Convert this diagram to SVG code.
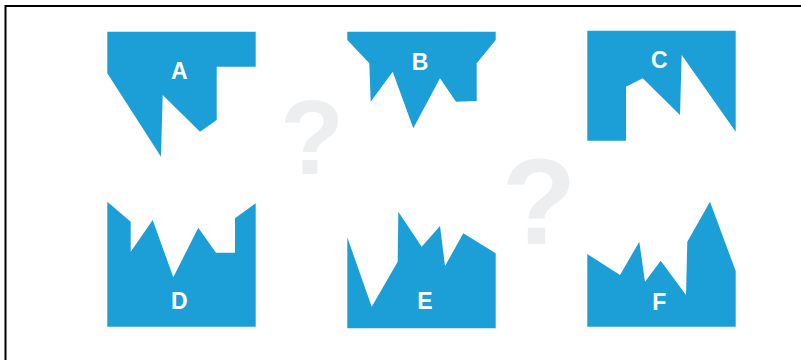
<svg xmlns="http://www.w3.org/2000/svg" width="801" height="360" viewBox="0 0 801 360">
<style>
.shape{fill:#1c9fd6}
.lbl{fill:#ffffff;font-family:"Liberation Sans",Arial,sans-serif;font-weight:bold;font-size:23px;text-anchor:middle}
.q{fill:#eceef0;font-family:"Liberation Sans",Arial,sans-serif;font-weight:bold;font-size:105px;text-anchor:middle}
</style>
<rect x="0" y="0" width="801" height="360" fill="#ffffff"/>
<path d="M5.5,362 V6 H803" fill="none" stroke="#000000" stroke-width="2"/>
<g id="q1"><text class="q" x="312" y="174">?</text></g>
<g id="q2"><text class="q" x="539" y="244" style="font-size:122px">?</text></g>
<g id="A">
<polygon class="shape" points="107.3,31.7 255.7,31.7 255.7,66.7 216.7,66.7 216.7,120 200,131.7 162.7,95 161,156.7 107.3,73.3"/>
<text class="lbl" x="179.3" y="78.5">A</text>
</g>
<g id="B">
<polygon class="shape" points="347.3,31.7 495.7,31.7 495.7,40 476.7,63.3 476.7,101 456,101.7 440,78.3 413.3,128.3 392.7,71.7 370.7,101.7 369.3,63.3 347.3,40"/>
<text class="lbl" x="420" y="70">B</text>
</g>
<g id="C">
<polygon class="shape" points="587.3,30.7 735.7,30.7 735.7,131.7 681.7,55 680,115 642.7,78.3 626,86.7 626,140.7 587.3,140.7"/>
<text class="lbl" x="659.3" y="67.5">C</text>
</g>
<g id="D">
<polygon class="shape" points="107.3,201.7 130.7,221.7 130.7,251.7 152.7,220 173.3,277.3 198.3,227.7 216,252.7 235,252.7 235,218.3 255.7,203.3 255.7,326.7 107.3,326.7"/>
<text class="lbl" x="179.3" y="308.5">D</text>
</g>
<g id="E">
<polygon class="shape" points="347.3,237.3 371.7,306.7 397.7,261.7 398.3,211.7 421.7,246.7 440,226 445,266 463.3,233.3 495.7,253.3 495.7,328.3 347.3,328.3"/>
<text class="lbl" x="425" y="308.5">E</text>
</g>
<g id="F">
<polygon class="shape" points="587.3,254 620,275 639.3,241.7 645,281.7 660.7,260.7 686,295 687.3,241.7 710,201.7 735.7,271 735.7,326.7 587.3,326.7"/>
<text class="lbl" x="659.3" y="310">F</text>
</g>
</svg>
